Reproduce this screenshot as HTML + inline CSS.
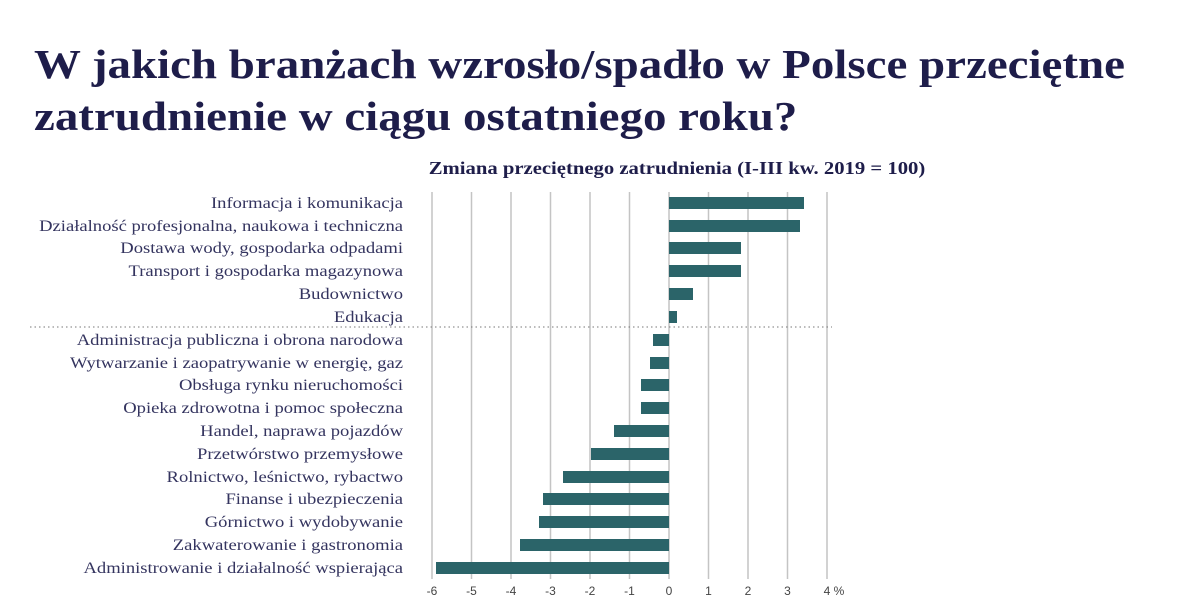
<!DOCTYPE html>
<html><head><meta charset="utf-8"><style>
body{margin:0;background:#fff;width:1200px;height:601px;overflow:hidden;position:relative;font-family:"Liberation Serif",serif;color:#1e1d4a}
h1{position:absolute;left:34px;top:38px;margin:0;font-size:41px;line-height:52px;font-weight:bold;transform:scaleX(1.145);transform-origin:0 0;white-space:nowrap}
</style></head><body>
<h1>W jakich branżach wzrosło/spadło w Polsce przeciętne<br>zatrudnienie w ciągu ostatniego roku?</h1>
<svg width="1200" height="601" style="position:absolute;left:0;top:0">
<text x="677" y="174" text-anchor="middle" font-family="Liberation Serif" font-size="18" font-weight="bold" fill="#1e1d4a" transform="translate(677,0) scale(1.15,1) translate(-677,0)">Zmiana przeciętnego zatrudnienia (I-III kw. 2019 = 100)</text>
<g stroke="#c4c4c4" stroke-width="1.5">
<line x1="432" y1="192" x2="432" y2="579"/><line x1="471.5" y1="192" x2="471.5" y2="579"/><line x1="511" y1="192" x2="511" y2="579"/><line x1="550.5" y1="192" x2="550.5" y2="579"/><line x1="590" y1="192" x2="590" y2="579"/><line x1="629.5" y1="192" x2="629.5" y2="579"/><line x1="669" y1="192" x2="669" y2="579"/><line x1="708.5" y1="192" x2="708.5" y2="579"/><line x1="748" y1="192" x2="748" y2="579"/><line x1="787.5" y1="192" x2="787.5" y2="579"/><line x1="827" y1="192" x2="827" y2="579"/>
</g>
<line x1="30" y1="327" x2="832" y2="327" stroke="#777" stroke-width="1" stroke-dasharray="1.5,3"/>
<g fill="#2b6469">
<rect x="669" y="197" width="135" height="12"/>
<rect x="669" y="220" width="131" height="12"/>
<rect x="669" y="242" width="72" height="12"/>
<rect x="669" y="265" width="72" height="12"/>
<rect x="669" y="288" width="24" height="12"/>
<rect x="669" y="311" width="8" height="12"/>
<rect x="653" y="334" width="16" height="12"/>
<rect x="650" y="357" width="19" height="12"/>
<rect x="641" y="379" width="28" height="12"/>
<rect x="641" y="402" width="28" height="12"/>
<rect x="614" y="425" width="55" height="12"/>
<rect x="591" y="448" width="78" height="12"/>
<rect x="563" y="471" width="106" height="12"/>
<rect x="543" y="493" width="126" height="12"/>
<rect x="539" y="516" width="130" height="12"/>
<rect x="520" y="539" width="149" height="12"/>
<rect x="436" y="562" width="233" height="12"/>
</g>
<g font-family="Liberation Serif" font-size="15.5" fill="#34345f" text-anchor="end" transform="translate(403,0) scale(1.2,1) translate(-403,0)">
<text x="403" y="208">Informacja i komunikacja</text>
<text x="403" y="231">Działalność profesjonalna, naukowa i techniczna</text>
<text x="403" y="253">Dostawa wody, gospodarka odpadami</text>
<text x="403" y="276">Transport i gospodarka magazynowa</text>
<text x="403" y="299">Budownictwo</text>
<text x="403" y="322">Edukacja</text>
<text x="403" y="345">Administracja publiczna i obrona narodowa</text>
<text x="403" y="368">Wytwarzanie i zaopatrywanie w energię, gaz</text>
<text x="403" y="390">Obsługa rynku nieruchomości</text>
<text x="403" y="413">Opieka zdrowotna i pomoc społeczna</text>
<text x="403" y="436">Handel, naprawa pojazdów</text>
<text x="403" y="459">Przetwórstwo przemysłowe</text>
<text x="403" y="482">Rolnictwo, leśnictwo, rybactwo</text>
<text x="403" y="504">Finanse i ubezpieczenia</text>
<text x="403" y="527">Górnictwo i wydobywanie</text>
<text x="403" y="550">Zakwaterowanie i gastronomia</text>
<text x="403" y="573">Administrowanie i działalność wspierająca</text>
</g>
<g font-family="Liberation Sans" font-size="12" fill="#444" text-anchor="middle">
<text x="432" y="595">-6</text><text x="471.5" y="595">-5</text><text x="511" y="595">-4</text><text x="550.5" y="595">-3</text><text x="590" y="595">-2</text><text x="629.5" y="595">-1</text><text x="669" y="595">0</text><text x="708.5" y="595">1</text><text x="748" y="595">2</text><text x="787.5" y="595">3</text><text x="834" y="595">4 %</text>
</g>
</svg>
</body></html>
